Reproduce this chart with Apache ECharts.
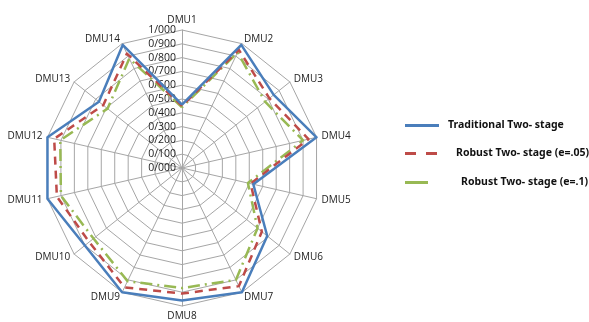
<!DOCTYPE html>
<html>
<head>
<meta charset="utf-8">
<script src="https://cdn.jsdelivr.net/npm/echarts@6/dist/echarts.min.js"></script>
<style>
  html, body { margin: 0; padding: 0; background: #fff; }
  #chart { width: 589px; height: 322px; }
</style>
</head>
<body>
<div id="chart"></div>
<script>
// Decision-making units, listed clockwise from the top
const units = ['DMU1','DMU2','DMU3','DMU4','DMU5','DMU6','DMU7','DMU8','DMU9','DMU10','DMU11','DMU12','DMU13','DMU14'];

// Efficiency scores per model
const traditional = [0.46, 0.99, 0.85, 1.00, 0.53, 0.79, 1.00, 0.96, 1.00, 0.90, 1.00, 1.00, 0.77, 0.99];
const robust05    = [0.45, 0.95, 0.81, 0.94, 0.51, 0.74, 0.95, 0.91, 0.96, 0.86, 0.93, 0.95, 0.73, 0.92];
const robust10    = [0.44, 0.93, 0.77, 0.90, 0.49, 0.70, 0.90, 0.87, 0.91, 0.82, 0.90, 0.905, 0.69, 0.88];

const seriesNames = ['Traditional Two- stage', 'Robust Two- stage (e=.05)', 'Robust Two- stage (e=.1)'];

// Scale ticks shown along the DMU1 spoke
const scaleMin = 0, scaleMax = 1, scaleStep = 0.1;

const cx = 182, cy = 168, R = 138;

// ECharts lays radar indicators out counter-clockwise; reorder so the units run clockwise
const order = units.map((_, i) => (units.length - i) % units.length);
const cw = arr => order.map(i => arr[i]);

const fmt = v => v.toFixed(3).replace('.', '/');

const chart = echarts.init(document.getElementById('chart'), null, { renderer: 'canvas' });

const legendText = { fontFamily: 'Noto Sans', fontSize: 10.5, fontWeight: 'bold', color: '#111' };

chart.setOption({
  backgroundColor: '#fff',
  animation: false,
  radar: {
    center: [cx, cy],
    radius: R,
    startAngle: 90,
    shape: 'polygon',
    splitNumber: 10,
    indicator: cw(units).map(n => ({ name: n, min: scaleMin, max: scaleMax })),
    axisName: { color: '#222', fontFamily: 'Open Sans', fontSize: 10 },
    nameGap: 5,
    axisLine: { lineStyle: { color: '#a6a6a6', width: 1 } },
    splitLine: { lineStyle: { color: '#a6a6a6', width: 1 } },
    splitArea: { show: false },
    axisTick: { show: false },
    axisLabel: { show: false }
  },
  // value scale drawn along the vertical spoke
  grid: { left: cx, top: cy - R, width: 1, height: R },
  xAxis: { type: 'value', show: false },
  yAxis: {
    type: 'value', min: scaleMin, max: scaleMax, interval: scaleStep,
    axisLine: { show: false }, axisTick: { show: false }, splitLine: { show: false },
    axisLabel: { formatter: fmt, color: '#222', fontFamily: 'Open Sans', fontSize: 10.5, margin: 6 }
  },
  legend: [
    {
      data: [seriesNames[0]], left: 400, top: 115,
      icon: 'rect', itemWidth: 34, itemHeight: 3, itemGap: 0,
      textStyle: Object.assign({}, legendText, { padding: [0, 0, 12, 4] })
    },
    {
      data: [seriesNames[1]], left: 400, top: 143,
      icon: 'path://M0,0h11v3H0z M21,0h11v3H21z', itemWidth: 32, itemHeight: 3,
      textStyle: Object.assign({}, legendText, { padding: [0, 0, 10, 14] })
    },
    {
      data: [seriesNames[2]], left: 400, top: 172,
      icon: 'rect', itemWidth: 23, itemHeight: 3,
      textStyle: Object.assign({}, legendText, { padding: [0, 0, 6, 28] })
    }
  ],
  series: [
    {
      type: 'radar', symbol: 'none', z: 4,
      data: [{ name: seriesNames[0], value: cw(traditional),
        lineStyle: { color: '#4a7ebb', width: 2.5 }, itemStyle: { color: '#4a7ebb' } }]
    },
    {
      type: 'radar', symbol: 'none', z: 3,
      data: [{ name: seriesNames[1], value: cw(robust05),
        lineStyle: { color: '#be4b48', width: 2.5, type: [8, 6] }, itemStyle: { color: '#be4b48' } }]
    },
    {
      type: 'radar', symbol: 'none', z: 2,
      data: [{ name: seriesNames[2], value: cw(robust10),
        lineStyle: { color: '#98b954', width: 2.5, type: [12, 5, 2, 5] }, itemStyle: { color: '#98b954' } }]
    }
  ]
});
</script>
</body>
</html>
